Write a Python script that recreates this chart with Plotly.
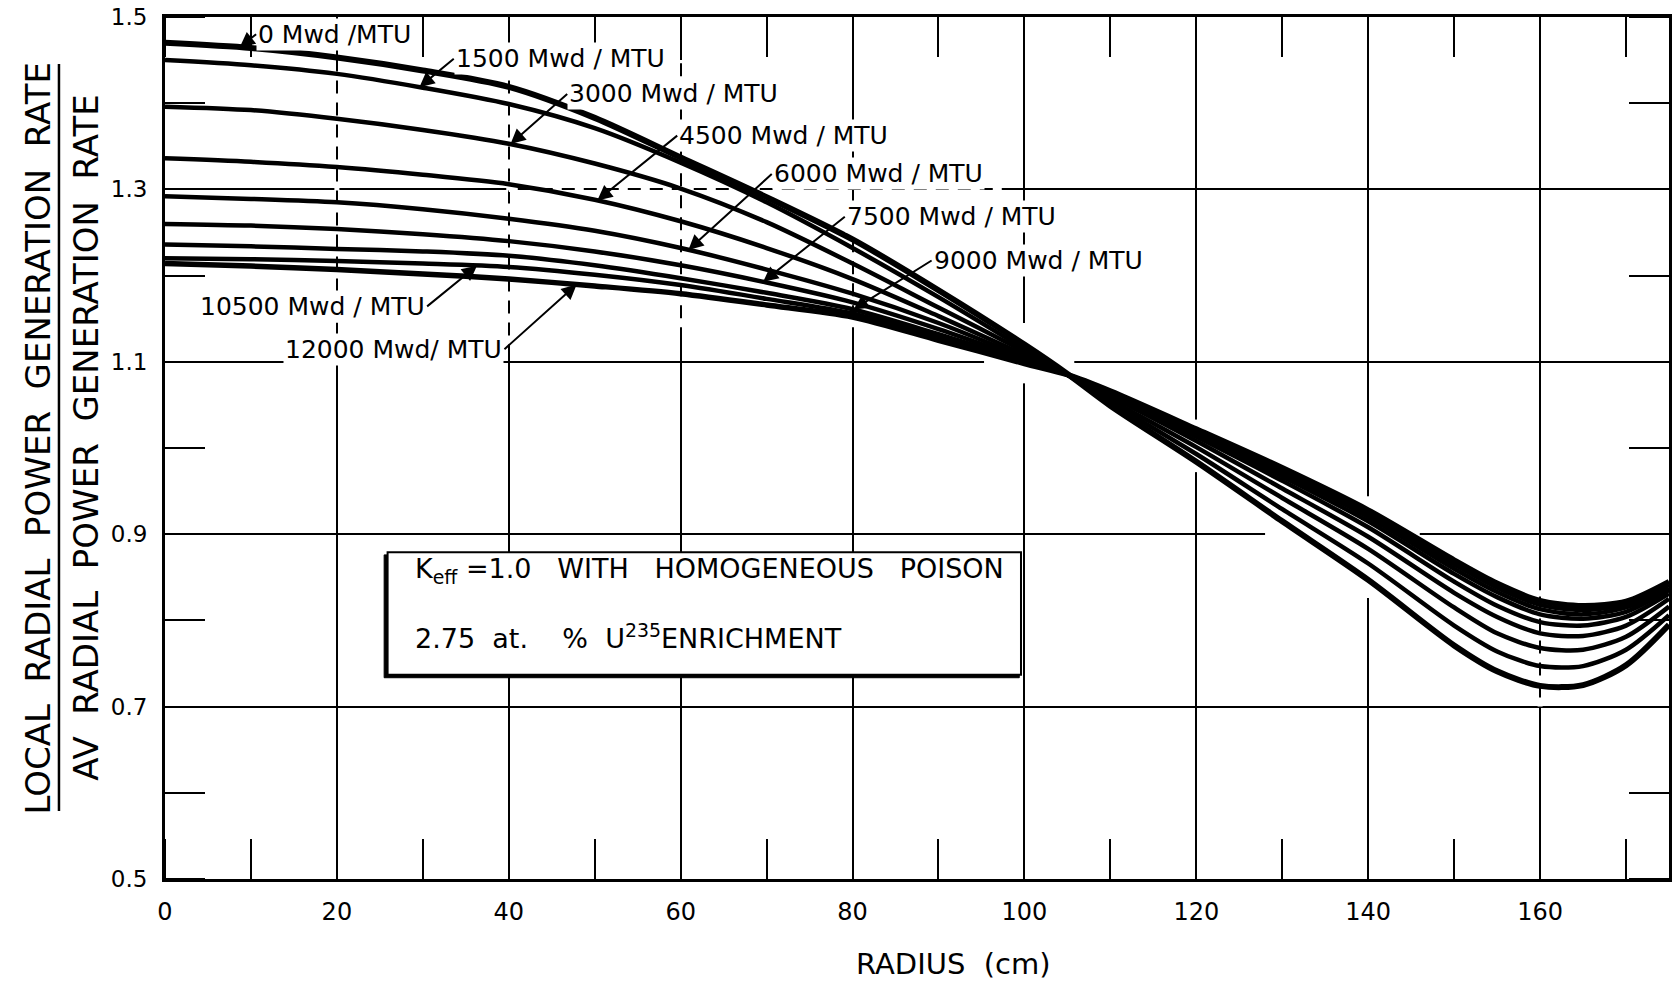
import numpy as np
import plotly.graph_objects as go

# ---------------- data ----------------
radius_cm = [0, 10, 20, 30, 40, 50, 60, 70, 80, 90, 100, 105, 110, 120,
             130, 140, 150, 155, 160, 165, 170, 175]

rate_0 = [1.470, 1.464, 1.453, 1.438, 1.419, 1.383, 1.337, 1.291, 1.242, 1.183, 1.120,
          1.086, 1.049, 0.984, 0.915, 0.847, 0.771, 0.741, 0.724, 0.725, 0.748, 0.795]
rate_1500 = [1.450, 1.444, 1.434, 1.418, 1.399, 1.371, 1.331, 1.285, 1.232, 1.175, 1.115,
             1.085, 1.053, 0.993, 0.929, 0.866, 0.794, 0.764, 0.747, 0.747, 0.766, 0.806]
rate_3000 = [1.396, 1.392, 1.382, 1.369, 1.353, 1.330, 1.301, 1.262, 1.214, 1.163, 1.112,
             1.085, 1.056, 1.001, 0.942, 0.883, 0.815, 0.785, 0.768, 0.766, 0.781, 0.816]
rate_4500 = [1.336, 1.332, 1.326, 1.317, 1.306, 1.288, 1.263, 1.232, 1.196, 1.153, 1.108,
             1.085, 1.060, 1.008, 0.953, 0.897, 0.832, 0.804, 0.785, 0.782, 0.794, 0.825]
rate_6000 = [1.292, 1.289, 1.285, 1.277, 1.266, 1.252, 1.232, 1.207, 1.179, 1.145, 1.105,
             1.085, 1.062, 1.013, 0.962, 0.908, 0.845, 0.817, 0.798, 0.794, 0.804, 0.831]
rate_7500 = [1.260, 1.258, 1.254, 1.248, 1.240, 1.228, 1.212, 1.192, 1.169, 1.138, 1.103,
             1.085, 1.063, 1.016, 0.967, 0.915, 0.854, 0.827, 0.807, 0.802, 0.810, 0.835]
rate_9000 = [1.236, 1.234, 1.231, 1.228, 1.223, 1.212, 1.197, 1.180, 1.161, 1.132, 1.101,
             1.085, 1.064, 1.018, 0.971, 0.920, 0.860, 0.833, 0.813, 0.807, 0.815, 0.838]
rate_10500 = [1.220, 1.219, 1.217, 1.214, 1.210, 1.201, 1.189, 1.173, 1.156, 1.128, 1.100,
              1.085, 1.065, 1.020, 0.974, 0.924, 0.865, 0.838, 0.818, 0.812, 0.819, 0.841]
rate_12000 = [1.214, 1.211, 1.207, 1.202, 1.196, 1.188, 1.179, 1.166, 1.152, 1.125, 1.098,
              1.085, 1.066, 1.022, 0.977, 0.928, 0.870, 0.843, 0.823, 0.817, 0.822, 0.845]

burnup_labels = ["0 Mwd /MTU", "1500 Mwd / MTU", "3000 Mwd / MTU", "4500 Mwd / MTU",
                 "6000 Mwd / MTU", "7500 Mwd / MTU", "9000 Mwd / MTU",
                 "10500 Mwd / MTU", "12000 Mwd/ MTU"]

x_tick_vals = [0, 20, 40, 60, 80, 100, 120, 140, 160]
x_tick_text = ["0", "20", "40", "60", "80", "100", "120", "140", "160"]
y_tick_vals = [0.5, 0.7, 0.9, 1.1, 1.3, 1.5]
y_tick_text = ["0.5", "0.7", "0.9", "1.1", "1.3", "1.5"]

series = [rate_0, rate_1500, rate_3000, rate_4500, rate_6000,
          rate_7500, rate_9000, rate_10500, rate_12000]

# ---------------- figure ----------------
FONT = "DejaVu Sans"
fig = go.Figure()

line_widths = [6, 4.5, 4.5, 4.5, 4.5, 4.5, 4.5, 4.5, 5.5]
for vals, name, w in zip(series, burnup_labels, line_widths):
    fig.add_trace(go.Scatter(
        x=radius_cm, y=vals, mode="lines", name=name,
        line=dict(color="black", width=w, shape="spline", smoothing=0.8),
        showlegend=False, hoverinfo="skip"))

# label placement: (tail x, tail y, head x, anchor side)
label_place = [
    (10.6, 1.480, 8.7, "left"),
    (33.6, 1.4516, 29.6, "left"),
    (46.8, 1.4107, 40.2, "left"),
    (59.6, 1.3624, 50.3, "left"),
    (70.6, 1.3179, 60.9, "left"),
    (79.1, 1.2683, 69.6, "left"),
    (89.2, 1.2175, 80.1, "left"),
    (30.5, 1.1643, 36.3, "right"),
    (39.5, 1.1147, 47.9, "right"),
]
annotations = []
for (tx, ty, hx, side), vals, name in zip(label_place, series, burnup_labels):
    hy = float(np.interp(hx, radius_cm, vals))
    annotations.append(dict(
        x=hx, y=hy, xref="x", yref="y", ax=tx, ay=ty, axref="x", ayref="y",
        text=name, showarrow=True, arrowhead=2, arrowsize=1.5, arrowwidth=2,
        arrowcolor="black", xanchor=side, yanchor="middle",
        bgcolor="white", borderpad=1,
        font=dict(family=FONT, size=25, color="black")))

# text box contents
annotations.append(dict(
    x=28.8, y=0.858, xref="x", yref="y", xanchor="left", yanchor="middle",
    showarrow=False,
    text="K<sub>eff</sub> =1.0   WITH   HOMOGENEOUS   POISON",
    font=dict(family=FONT, size=27, color="black")))
annotations.append(dict(
    x=28.8, y=0.781, xref="x", yref="y", xanchor="left", yanchor="middle",
    showarrow=False,
    text="2.75  at.    %  U<sup>235</sup>ENRICHMENT",
    font=dict(family=FONT, size=27, color="black")))

# axis titles
annotations.append(dict(
    x=0.524, y=-0.099, xref="paper", yref="paper", showarrow=False,
    xanchor="center", yanchor="middle",
    text="RADIUS  (cm)", font=dict(family=FONT, size=29, color="black")))
annotations.append(dict(
    x=-0.0845, y=0.512, xref="paper", yref="paper", showarrow=False,
    xanchor="center", yanchor="middle",
    textangle=-90, text="LOCAL  RADIAL  POWER  GENERATION  RATE",
    font=dict(family=FONT, size=34, color="black")))
annotations.append(dict(
    x=-0.0525, y=0.512, xref="paper", yref="paper", showarrow=False,
    xanchor="center", yanchor="middle",
    textangle=-90, text="AV  RADIAL  POWER  GENERATION  RATE",
    font=dict(family=FONT, size=34, color="black")))

shapes = []
# fraction bar of the y title
shapes.append(dict(type="line", xref="paper", yref="paper",
                   x0=-0.0705, x1=-0.0705, y0=0.079, y1=0.9455,
                   line=dict(color="black", width=2.5)))


def dashed(x0, y0, x1, y1):
    return dict(type="line", xref="x", yref="y", x0=x0, y0=y0, x1=x1, y1=y1,
                layer="between", line=dict(color="white", width=5, dash="9px,13px"))


def gap(x0, y0, x1, y1):
    return dict(type="line", xref="x", yref="y", x0=x0, y0=y0, x1=x1, y1=y1,
                layer="between", line=dict(color="white", width=5))


shapes += [
    dashed(20, 1.12, 20, 1.497), dashed(40, 1.12, 40, 1.497),
    dashed(60, 1.14, 60, 1.45), dashed(80, 1.14, 80, 1.26),
    dashed(160, 0.70, 160, 0.835), dashed(40, 1.3, 98, 1.3),
    gap(100, 1.075, 100, 1.145), gap(95.3, 1.1, 105.8, 1.1),
    gap(120, 0.972, 120, 1.033), gap(128, 0.9, 146, 0.9),
    gap(140, 0.826, 140, 0.944),
]

# boxed note with shadowed left / bottom edge
shapes.append(dict(type="rect", xref="x", yref="y", x0=25.5, x1=99.4, y0=0.7335, y1=0.876,
                   layer="above", fillcolor="black", line=dict(color="black", width=1)))
shapes.append(dict(type="rect", xref="x", yref="y", x0=25.9, x1=99.6, y0=0.737, y1=0.879,
                   layer="above", fillcolor="white", line=dict(color="black", width=2)))

fig.update_layout(
    width=1674, height=982,
    margin=dict(l=165, r=5, t=17, b=103, autoexpand=False),
    paper_bgcolor="white", plot_bgcolor="white",
    font=dict(family=FONT, color="black"),
    annotations=annotations, shapes=shapes,
)

fig.update_xaxes(
    range=[0, 175], tickvals=x_tick_vals, ticktext=x_tick_text,
    showgrid=True, gridcolor="black", gridwidth=2, zeroline=False,
    showline=True, linecolor="black", linewidth=3, mirror="allticks",
    ticks="", ticklabelstandoff=9, ticklabeloverflow="allow",
    tickfont=dict(family=FONT, size=24, color="black"),
    minor=dict(dtick=10, tick0=0, ticks="inside", ticklen=40, tickwidth=2,
               tickcolor="black", showgrid=False))
fig.update_yaxes(
    range=[0.5, 1.5], tickvals=y_tick_vals, ticktext=y_tick_text,
    showgrid=True, gridcolor="black", gridwidth=2, zeroline=False,
    showline=True, linecolor="black", linewidth=3, mirror="allticks",
    ticks="", ticklabelstandoff=10, ticklabeloverflow="allow",
    tickfont=dict(family=FONT, size=23, color="black"),
    minor=dict(dtick=0.1, tick0=0.5, ticks="inside", ticklen=40, tickwidth=2,
               tickcolor="black", showgrid=False))

# remove the default 8px page margin so the figure fills the window exactly
fig.write_html("out.html",
               config={"displayModeBar": False, "staticPlot": True},
               post_script="document.body.style.margin='0px';"
                           "document.body.style.overflow='hidden';")
